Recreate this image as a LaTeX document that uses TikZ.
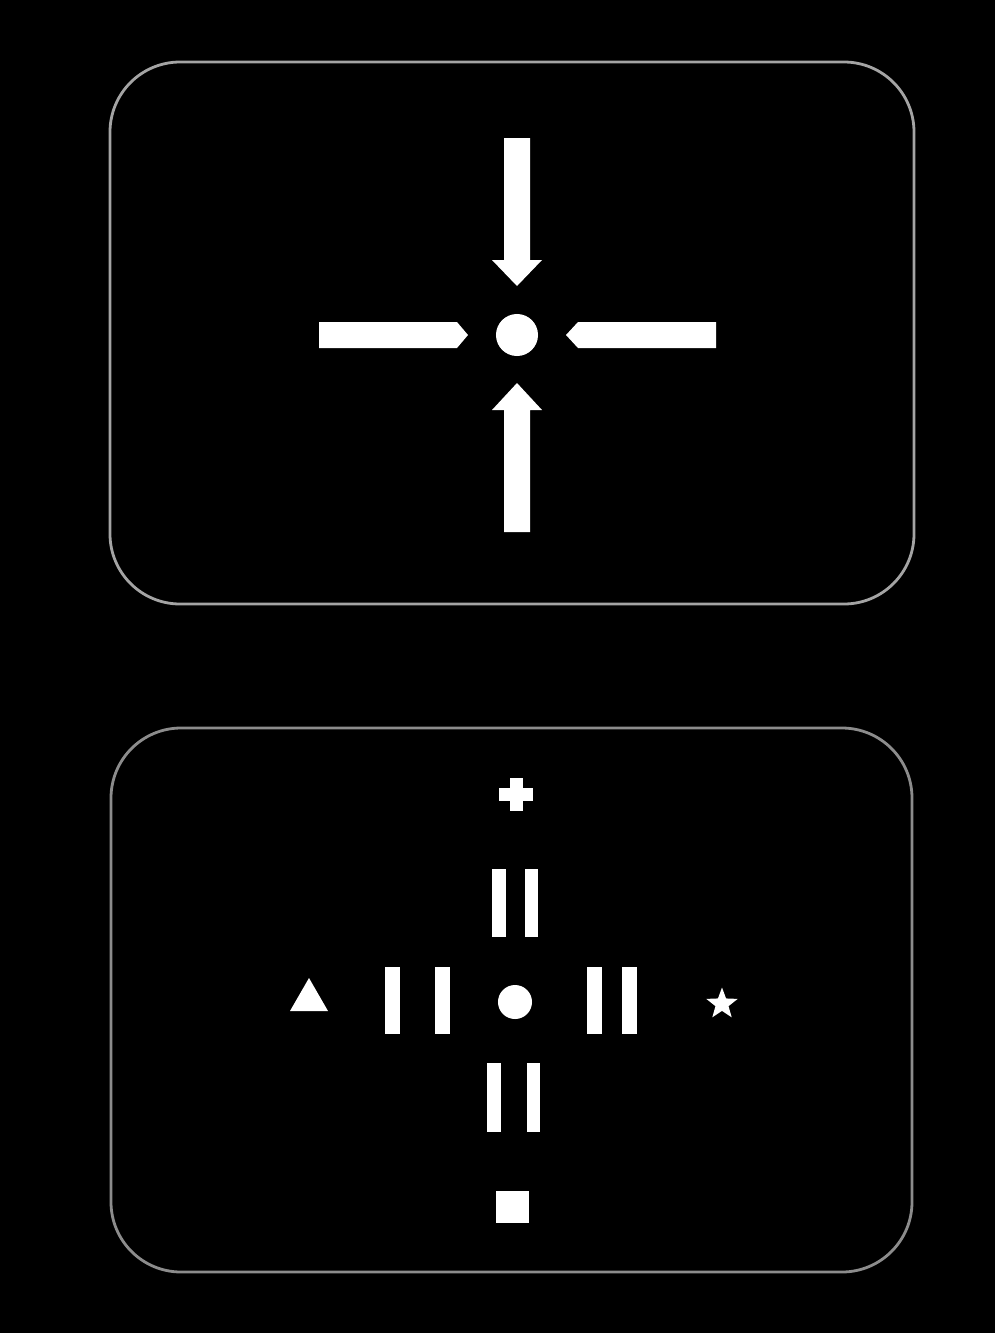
\documentclass[tikz,border=0pt]{standalone}
\usepackage{tikz}
\usetikzlibrary{positioning,shapes.geometric}
\definecolor{frameA}{HTML}{A4A4A4}
\definecolor{frameB}{HTML}{8C8C8C}

\begin{document}
\begin{tikzpicture}[x=0.01cm,y=-0.01cm,
  panel/.style={
    line width=0.8pt,
    rounded corners=0.7cm
  },
  dot/.style={
    circle,
    fill=white,
    inner sep=0pt,
    minimum size=#1
  },
  bar/.style={fill=white}
]
  % background and frame of the page
  \fill[black] (0,0) rectangle (995,1333);
  \useasboundingbox (0,0) rectangle (995,1333);
  \draw[panel,draw=frameA] (110,62) rectangle (914,604);
  \draw[panel,draw=frameB] (111,728) rectangle (912,1272);

  % top panel
  \node[dot=0.42cm] (fix) at (517,335) {};
  \fill[bar] (504,138) -- (530,138) -- (530,260) -- (542,260) -- (517,286)
    -- (492,260) -- (504,260) -- cycle;
  \fill[bar] (504,532) -- (530,532) -- (530,410) -- (542,410) -- (517,383)
    -- (492,410) -- (504,410) -- cycle;
  \fill[bar] (319,322) -- (457,322) -- (468,335) -- (457,348) -- (319,348) -- cycle;
  \fill[bar] (716,322) -- (578,322) -- (566,335) -- (578,348) -- (716,348) -- cycle;

  % bottom panel
  \node[dot=0.34cm] (centre) at (515,1002) {};
  \fill[bar] (510,778) rectangle (523,811);
  \fill[bar] (499,788) rectangle (533,801);
  \fill[bar] (492,869) rectangle (506,937);
  \fill[bar] (525,869) rectangle (538,937);
  \fill[bar] (385,967) rectangle (400,1034);
  \fill[bar] (435,967) rectangle (450,1034);
  \fill[bar] (587,967) rectangle (602,1034);
  \fill[bar] (622,967) rectangle (637,1034);
  \fill[bar] (487,1063) rectangle (501,1132);
  \fill[bar] (527,1063) rectangle (540,1132);
  \fill[bar] (290,1011) -- (328,1011) -- (309,978) -- cycle;
  \node[star,star points=5,star point ratio=2.4,fill=white,inner sep=0pt,
    minimum size=0.33cm] (star) at (722,1004) {};
  \fill[bar] (496,1191) rectangle (529,1223);
\end{tikzpicture}
\end{document}
